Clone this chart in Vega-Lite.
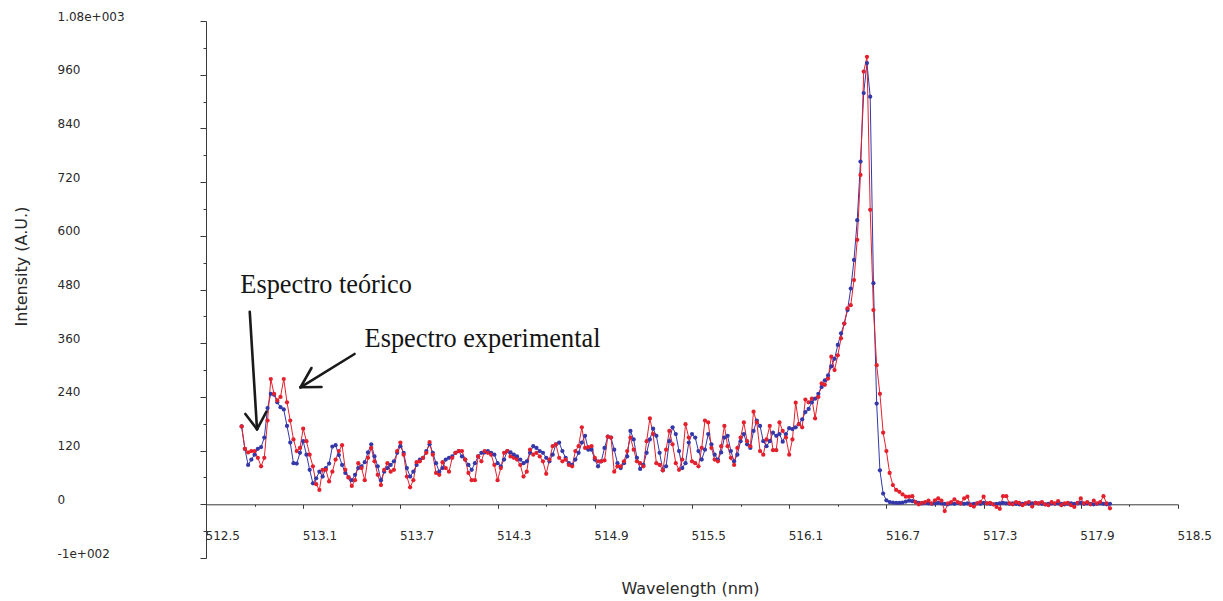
{
  "$schema": "https://vega.github.io/schema/vega-lite/v6.json",
  "width": 972,
  "height": 537,
  "autosize": {"type": "none"},
  "padding": {"left": 206, "top": 21, "right": 45, "bottom": 43},
  "background": "#ffffff",
  "config": {
    "view": {"stroke": null},
    "axis": {
      "grid": false,
      "domainColor": "#3a3a3a",
      "tickColor": "#3a3a3a",
      "labelColor": "#2a2a2a",
      "titleColor": "#2a2a2a",
      "labelFont": "DejaVu Sans",
      "titleFont": "DejaVu Sans",
      "labelFontSize": 12,
      "titleFontSize": 16,
      "titleFontWeight": "normal",
      "domainWidth": 1,
      "tickWidth": 1,
      "labelFlush": false,
      "labelOverlap": false
    }
  },
  "datasets": {
    "spectra": [
      {"w":512.72,"t":174,"e":174},{"w":512.74,"t":124,"e":124},{"w":512.76,"t":88,"e":116},{"w":512.78,"t":100,"e":119},{"w":512.80,"t":111,"e":119},
      {"w":512.82,"t":124,"e":104},{"w":512.84,"t":128,"e":85},{"w":512.86,"t":149,"e":104},{"w":512.88,"t":215,"e":187},{"w":512.90,"t":247,"e":280},
      {"w":512.92,"t":245,"e":247},{"w":512.94,"t":228,"e":232},{"w":512.96,"t":217,"e":240},{"w":512.98,"t":212,"e":280},{"w":513.00,"t":175,"e":228},
      {"w":513.02,"t":138,"e":187},{"w":513.04,"t":92,"e":145},{"w":513.06,"t":91,"e":119},{"w":513.08,"t":115,"e":126},{"w":513.10,"t":141,"e":169},
      {"w":513.12,"t":111,"e":141},{"w":513.14,"t":77,"e":111},{"w":513.16,"t":47,"e":85},{"w":513.18,"t":58,"e":45},{"w":513.20,"t":73,"e":32},
      {"w":513.22,"t":62,"e":77},{"w":513.24,"t":81,"e":77},{"w":513.26,"t":91,"e":51},{"w":513.28,"t":129,"e":73},{"w":513.30,"t":132,"e":100},
      {"w":513.32,"t":110,"e":119},{"w":513.34,"t":88,"e":132},{"w":513.36,"t":70,"e":77},{"w":513.38,"t":60,"e":60},{"w":513.40,"t":54,"e":41},
      {"w":513.42,"t":66,"e":54},{"w":513.44,"t":81,"e":92},{"w":513.46,"t":85,"e":81},{"w":513.48,"t":94,"e":54},{"w":513.50,"t":116,"e":104},
      {"w":513.52,"t":134,"e":126},{"w":513.54,"t":107,"e":96},{"w":513.56,"t":85,"e":66},{"w":513.58,"t":54,"e":43},{"w":513.60,"t":73,"e":77},
      {"w":513.62,"t":81,"e":92},{"w":513.64,"t":88,"e":73},{"w":513.66,"t":96,"e":77},{"w":513.68,"t":115,"e":119},{"w":513.70,"t":130,"e":138},
      {"w":513.72,"t":115,"e":111},{"w":513.74,"t":81,"e":62},{"w":513.76,"t":62,"e":38},{"w":513.78,"t":73,"e":54},{"w":513.80,"t":88,"e":94},
      {"w":513.82,"t":100,"e":96},{"w":513.84,"t":104,"e":104},{"w":513.86,"t":119,"e":115},{"w":513.88,"t":134,"e":139},{"w":513.90,"t":115,"e":111},
      {"w":513.92,"t":92,"e":70},{"w":513.94,"t":73,"e":66},{"w":513.96,"t":81,"e":94},{"w":513.98,"t":100,"e":81},{"w":514.00,"t":104,"e":73},
      {"w":514.02,"t":107,"e":104},{"w":514.04,"t":115,"e":115},{"w":514.06,"t":119,"e":119},{"w":514.08,"t":107,"e":119},{"w":514.10,"t":100,"e":100},
      {"w":514.12,"t":88,"e":70},{"w":514.14,"t":77,"e":54},{"w":514.16,"t":92,"e":54},{"w":514.18,"t":107,"e":107},{"w":514.20,"t":115,"e":96},
      {"w":514.22,"t":116,"e":119},{"w":514.24,"t":119,"e":115},{"w":514.26,"t":115,"e":111},{"w":514.28,"t":111,"e":88},{"w":514.30,"t":92,"e":54},
      {"w":514.32,"t":85,"e":81},{"w":514.34,"t":100,"e":115},{"w":514.36,"t":119,"e":119},{"w":514.38,"t":116,"e":107},{"w":514.40,"t":111,"e":104},
      {"w":514.42,"t":107,"e":100},{"w":514.44,"t":100,"e":88},{"w":514.46,"t":92,"e":62},{"w":514.48,"t":96,"e":73},{"w":514.50,"t":115,"e":122},
      {"w":514.52,"t":130,"e":111},{"w":514.54,"t":126,"e":115},{"w":514.56,"t":119,"e":107},{"w":514.58,"t":115,"e":96},{"w":514.60,"t":104,"e":68},
      {"w":514.62,"t":96,"e":100},{"w":514.64,"t":111,"e":130},{"w":514.66,"t":134,"e":134},{"w":514.68,"t":138,"e":104},{"w":514.70,"t":119,"e":96},
      {"w":514.72,"t":104,"e":100},{"w":514.74,"t":92,"e":88},{"w":514.76,"t":88,"e":85},{"w":514.78,"t":100,"e":119},{"w":514.80,"t":115,"e":130},
      {"w":514.82,"t":138,"e":172},{"w":514.84,"t":153,"e":126},{"w":514.86,"t":122,"e":128},{"w":514.88,"t":122,"e":130},{"w":514.90,"t":100,"e":104},
      {"w":514.92,"t":85,"e":96},{"w":514.94,"t":96,"e":96},{"w":514.96,"t":126,"e":98},{"w":514.98,"t":151,"e":151},{"w":515.00,"t":149,"e":149},
      {"w":515.02,"t":122,"e":73},{"w":515.04,"t":92,"e":85},{"w":515.06,"t":81,"e":85},{"w":515.08,"t":92,"e":96},{"w":515.10,"t":107,"e":119},
      {"w":515.12,"t":164,"e":149},{"w":515.14,"t":145,"e":122},{"w":515.16,"t":104,"e":96},{"w":515.18,"t":79,"e":92},{"w":515.20,"t":88,"e":85},
      {"w":515.22,"t":115,"e":141},{"w":515.24,"t":145,"e":192},{"w":515.26,"t":169,"e":157},{"w":515.28,"t":153,"e":92},{"w":515.30,"t":115,"e":88},
      {"w":515.32,"t":76,"e":76},{"w":515.34,"t":85,"e":122},{"w":515.36,"t":141,"e":164},{"w":515.38,"t":172,"e":134},{"w":515.40,"t":157,"e":92},
      {"w":515.42,"t":119,"e":77},{"w":515.44,"t":81,"e":100},{"w":515.46,"t":92,"e":179},{"w":515.48,"t":138,"e":149},{"w":515.50,"t":157,"e":96},
      {"w":515.52,"t":149,"e":92},{"w":515.54,"t":119,"e":85},{"w":515.56,"t":100,"e":126},{"w":515.58,"t":122,"e":187},{"w":515.60,"t":157,"e":183},
      {"w":515.62,"t":134,"e":126},{"w":515.64,"t":111,"e":100},{"w":515.66,"t":100,"e":96},{"w":515.68,"t":116,"e":130},{"w":515.70,"t":149,"e":175},
      {"w":515.72,"t":153,"e":130},{"w":515.74,"t":119,"e":104},{"w":515.76,"t":96,"e":88},{"w":515.78,"t":111,"e":126},{"w":515.80,"t":141,"e":149},
      {"w":515.82,"t":157,"e":183},{"w":515.84,"t":134,"e":141},{"w":515.86,"t":126,"e":130},{"w":515.88,"t":164,"e":207},{"w":515.90,"t":187,"e":183},
      {"w":515.92,"t":175,"e":119},{"w":515.94,"t":141,"e":111},{"w":515.96,"t":130,"e":145},{"w":515.98,"t":141,"e":175},{"w":516.00,"t":160,"e":121},
      {"w":516.02,"t":153,"e":121},{"w":516.04,"t":157,"e":183},{"w":516.06,"t":140,"e":164},{"w":516.08,"t":157,"e":149},{"w":516.10,"t":170,"e":111},
      {"w":516.12,"t":168,"e":145},{"w":516.14,"t":172,"e":227},{"w":516.16,"t":179,"e":179},{"w":516.18,"t":190,"e":172},{"w":516.20,"t":206,"e":234},
      {"w":516.22,"t":213,"e":228},{"w":516.24,"t":228,"e":236},{"w":516.26,"t":236,"e":192},{"w":516.28,"t":247,"e":240},{"w":516.30,"t":262,"e":270},
      {"w":516.32,"t":277,"e":267},{"w":516.34,"t":288,"e":281},{"w":516.36,"t":308,"e":330},{"w":516.38,"t":325,"e":300},{"w":516.40,"t":356,"e":333},
      {"w":516.42,"t":382,"e":371},{"w":516.44,"t":404,"e":404},{"w":516.46,"t":434,"e":438},{"w":516.48,"t":482,"e":445},{"w":516.50,"t":546,"e":501},
      {"w":516.52,"t":635,"e":591},{"w":516.54,"t":766,"e":736},{"w":516.56,"t":919,"e":967},{"w":516.58,"t":986,"e":1000},{"w":516.60,"t":911,"e":658},
      {"w":516.62,"t":494,"e":434},{"w":516.64,"t":225,"e":311},{"w":516.66,"t":76,"e":247},{"w":516.68,"t":24,"e":160},{"w":516.70,"t":9,"e":119},
      {"w":516.72,"t":5,"e":70},{"w":516.74,"t":4,"e":43},{"w":516.76,"t":3,"e":32},{"w":516.78,"t":3,"e":28},{"w":516.80,"t":4,"e":22},
      {"w":516.82,"t":6,"e":17},{"w":516.84,"t":8,"e":17},{"w":516.86,"t":7,"e":18},{"w":516.88,"t":5,"e":5},{"w":516.90,"t":3,"e":0},
      {"w":516.92,"t":2,"e":3},{"w":516.94,"t":3,"e":5},{"w":516.96,"t":2,"e":8},{"w":516.98,"t":1,"e":2},{"w":517.00,"t":2,"e":9},
      {"w":517.02,"t":3,"e":13},{"w":517.04,"t":2,"e":8},{"w":517.06,"t":1,"e":-15},{"w":517.08,"t":0,"e":2},{"w":517.10,"t":2,"e":5},
      {"w":517.12,"t":1,"e":11},{"w":517.14,"t":3,"e":5},{"w":517.16,"t":2,"e":2},{"w":517.18,"t":1,"e":13},{"w":517.20,"t":2,"e":17},
      {"w":517.22,"t":0,"e":-2},{"w":517.24,"t":1,"e":-5},{"w":517.26,"t":2,"e":2},{"w":517.28,"t":1,"e":5},{"w":517.30,"t":3,"e":17},
      {"w":517.32,"t":2,"e":2},{"w":517.34,"t":1,"e":3},{"w":517.36,"t":0,"e":0},{"w":517.38,"t":1,"e":-6},{"w":517.40,"t":2,"e":-10},
      {"w":517.42,"t":3,"e":18},{"w":517.44,"t":2,"e":18},{"w":517.46,"t":1,"e":2},{"w":517.48,"t":2,"e":0},{"w":517.50,"t":1,"e":5},
      {"w":517.52,"t":0,"e":3},{"w":517.54,"t":1,"e":-2},{"w":517.56,"t":2,"e":2},{"w":517.58,"t":1,"e":5},{"w":517.60,"t":2,"e":-5},
      {"w":517.62,"t":3,"e":3},{"w":517.64,"t":2,"e":2},{"w":517.66,"t":1,"e":5},{"w":517.68,"t":0,"e":0},{"w":517.70,"t":1,"e":-2},
      {"w":517.72,"t":2,"e":5},{"w":517.74,"t":1,"e":2},{"w":517.76,"t":2,"e":7},{"w":517.78,"t":1,"e":-2},{"w":517.80,"t":0,"e":2},
      {"w":517.82,"t":1,"e":3},{"w":517.84,"t":2,"e":-2},{"w":517.86,"t":1,"e":-6},{"w":517.88,"t":2,"e":3},{"w":517.90,"t":3,"e":13},
      {"w":517.92,"t":1,"e":2},{"w":517.94,"t":2,"e":5},{"w":517.96,"t":1,"e":0},{"w":517.98,"t":0,"e":8},{"w":518.00,"t":1,"e":2},
      {"w":518.02,"t":2,"e":5},{"w":518.04,"t":1,"e":18},{"w":518.06,"t":0,"e":2},{"w":518.08,"t":1,"e":-9}
    ],
    "notes": [
      {"label": "Espectro teórico", "w": 512.712, "v": 471.5},
      {"label": "Espectro experimental", "w": 513.479, "v": 351}
    ],
    "arrows": [
      {"w": 512.770, "v": 430.4, "w2": 512.815, "v2": 167.6},
      {"w": 512.743, "v": 201.8, "w2": 512.815, "v2": 167.6},
      {"w": 512.873, "v": 206.9, "w2": 512.815, "v2": 167.6},
      {"w": 513.417, "v": 335.9, "w2": 513.083, "v2": 261.5},
      {"w": 513.151, "v": 304.6, "w2": 513.083, "v2": 261.5},
      {"w": 513.213, "v": 262.0, "w2": 513.083, "v2": 261.5}
    ]
  },
  "encoding": {
    "x": {
      "field": "w", "type": "quantitative",
      "scale": {"domain": [512.5, 518.5], "nice": false, "zero": false},
      "axis": {
        "values": [512.5, 512.8, 513.1, 513.4, 513.7, 514.0, 514.3, 514.6, 514.9, 515.2, 515.5, 515.8, 516.1, 516.4, 516.7, 517.0, 517.3, 517.6, 517.9, 518.2, 518.5],
        "format": ".1f",
        "labelExpr": "round((datum.value - 512.5) / 0.3) % 2 == 0 ? datum.label : ''",
        "tickSize": {"condition": {"test": "round((datum.value - 512.5) / 0.3) % 2 == 0", "value": 4}, "value": 2},
        "offset": -53.7,
        "labelAlign": "left",
        "labelBaseline": "middle",
        "labelPadding": 27,
        "labelOffset": -1,
        "title": "Wavelength (nm)",
        "titleX": 484,
        "titleY": 84,
        "titleAlign": "center",
        "titleBaseline": "middle"
      }
    },
    "y": {
      "field": "v", "type": "quantitative",
      "scale": {"domain": [-120, 1080], "nice": false, "zero": false},
      "axis": {
        "values": [-120, -60, 0, 60, 120, 180, 240, 300, 360, 420, 480, 540, 600, 660, 720, 780, 840, 900, 960, 1020, 1080],
        "labelExpr": "datum.value == -120 ? '-1e+002' : datum.value == 1080 ? '1.08e+003' : (datum.value % 120 == 0 ? datum.label : '')",
        "tickSize": {"condition": {"test": "datum.value % 120 == 0", "value": 6}, "value": 3},
        "labelAlign": "left",
        "labelBaseline": "middle",
        "labelPadding": 143,
        "labelOffset": -5,
        "title": "Intensity (A.U.)",
        "titleX": -185,
        "titleY": 245,
        "titleAngle": -90,
        "titleAlign": "center",
        "titleBaseline": "middle"
      }
    }
  },
  "layer": [
    {
      "data": {"name": "spectra"},
      "transform": [{"fold": ["t", "e"], "as": ["serie", "v"]}],
      "mark": {"type": "line", "strokeWidth": 1, "point": {"filled": true, "size": 18}},
      "encoding": {
        "color": {
          "field": "serie", "type": "nominal",
          "scale": {"domain": ["t", "e"], "range": ["#3438a8", "#e3202c"]},
          "legend": null
        }
      }
    },
    {
      "data": {"name": "arrows"},
      "mark": {"type": "rule", "color": "#1a1a1a", "strokeWidth": 2.6, "strokeCap": "round"},
      "encoding": {
        "x2": {"field": "w2"},
        "y2": {"field": "v2"}
      }
    },
    {
      "data": {"name": "notes"},
      "mark": {"type": "text", "align": "left", "baseline": "alphabetic", "font": "Liberation Serif", "fontSize": 26.3, "color": "#141414"},
      "encoding": {
        "text": {"field": "label"}
      }
    }
  ]
}
